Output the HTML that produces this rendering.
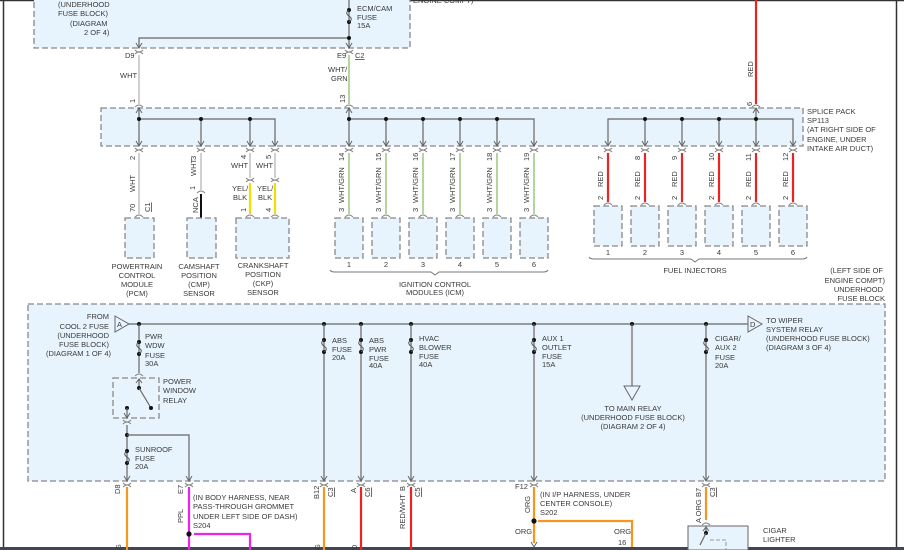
<!DOCTYPE html>
<html><head><meta charset="utf-8"><style>
html,body{margin:0;padding:0;background:#fff;}
svg{display:block;}
text{font-family:"Liberation Sans",sans-serif;font-size:7.5px;fill:#3a3a3a;}
.box{fill:#e8f4fd;stroke:#888;stroke-width:1.3;stroke-dasharray:6,3;}
.w{stroke:#666;stroke-width:1.2;fill:none;}
.gy{stroke:#d0d0d0;stroke-width:2;}
.gr{stroke:#b5d69a;stroke-width:2;}
.rd{stroke:#ee2222;stroke-width:2.2;}
.og{stroke:#f5961e;stroke-width:2.2;}
.mg{stroke:#ee22ee;stroke-width:2.2;}
.yl{stroke:#f0e000;stroke-width:2.2;}
.bk{stroke:#111;stroke-width:2;}
</style></head><body>
<svg width="904" height="550" viewBox="0 0 904 550" xmlns="http://www.w3.org/2000/svg">
<defs>
<g id="ar"><path d="M-3,-5 L0,0 L3,-5" fill="none" stroke="#666" stroke-width="1"/></g>
<g id="cp"><path d="M-4,4 Q0,0 4,4" fill="none" stroke="#888" stroke-width="1"/><path d="M-4,0 Q0,4 4,0" fill="none" stroke="#888" stroke-width="1"/></g>
<g id="cu"><path d="M-4,3 Q0,-1 4,3" fill="none" stroke="#888" stroke-width="1"/></g>
<g id="fz"><circle cx="0" cy="0" r="2" fill="#111"/><circle cx="0" cy="12" r="2" fill="#111"/><path d="M0,0 c-3,2 -3,4 0,6 c3,2 3,4 0,6" fill="none" stroke="#555" stroke-width="1"/></g>
<g id="sb"><rect x="-14" y="0" width="29" height="40" class="box"/></g>
<g id="ib"><rect x="-14" y="0" width="28" height="40" class="box"/></g>
</defs>

<!-- frame -->
<line x1="0" y1="0.5" x2="904" y2="0.5" stroke="#333" stroke-width="1.5"/>
<line x1="3.5" y1="0" x2="3.5" y2="550" stroke="#333" stroke-width="1.5"/>
<line x1="896.5" y1="0" x2="896.5" y2="550" stroke="#333" stroke-width="1.5"/>
<rect x="0" y="547" width="904" height="3" fill="#445"/>

<!-- top fuse block -->
<rect x="34" y="-6" width="376" height="54" class="box"/>
<text x="58" y="7">(UNDERHOOD</text>
<text x="58" y="16">FUSE BLOCK)</text>
<text x="70" y="26">(DIAGRAM</text>
<text x="84" y="35">2 OF 4)</text>
<line x1="349" y1="0" x2="349" y2="48" class="w"/>
<use href="#fz" x="349" y="10"/>
<text x="357" y="11">ECM/CAM</text>
<text x="357" y="20">FUSE</text>
<text x="357" y="28">15A</text>
<polyline points="139,48 139,38 349,38" class="w"/>
<circle cx="349" cy="38" r="2" fill="#111"/>
<use href="#ar" x="139" y="48"/><use href="#ar" x="349" y="48"/>
<text x="413" y="3">ENGINE COMPT)</text>
<use href="#cp" x="139" y="50"/><use href="#cp" x="349" y="50"/>
<text x="125" y="58">D9</text>
<text x="337" y="58">E9</text>
<text x="355" y="58" text-decoration="underline">C2</text>
<line x1="139" y1="55" x2="139" y2="104" class="gy"/>
<line x1="349" y1="55" x2="349" y2="104" class="gr"/>
<text x="120" y="78">WHT</text>
<text x="328" y="72">WHT/</text>
<text x="331" y="81">GRN</text>
<text transform="translate(135,103) rotate(-90)">1</text>
<text transform="translate(345,103) rotate(-90)">13</text>
<use href="#cu" x="139" y="104"/><use href="#cu" x="349" y="104"/>

<!-- red incoming -->
<line x1="756" y1="0" x2="756" y2="104" class="rd"/>
<text transform="translate(753,77) rotate(-90)">RED</text>
<text transform="translate(752,106) rotate(-90)">6</text>
<use href="#cu" x="756" y="104"/>

<!-- splice box -->
<rect x="101" y="108" width="702" height="38" class="box"/>
<text x="807" y="114">SPLICE PACK</text>
<text x="807" y="123">SP113</text>
<text x="807" y="132">(AT RIGHT SIDE OF</text>
<text x="807" y="142">ENGINE, UNDER</text>
<text x="807" y="151">INTAKE AIR DUCT)</text>
<polyline points="139,119 275,119 275,146" class="w"/>
<line x1="139" y1="108" x2="139" y2="146" class="w"/>
<line x1="201" y1="119" x2="201" y2="146" class="w"/>
<line x1="250" y1="119" x2="250" y2="146" class="w"/>
<path d="M136,113 L139,108 L142,113" fill="none" stroke="#666"/>
<circle cx="139" cy="119" r="2" fill="#111"/><circle cx="201" cy="119" r="2" fill="#111"/><circle cx="250" cy="119" r="2" fill="#111"/>
<polyline points="349,119 534,119 534,146" class="w"/>
<line x1="349" y1="108" x2="349" y2="146" class="w"/>
<path d="M346,113 L349,108 L352,113" fill="none" stroke="#666"/>
<line x1="386" y1="119" x2="386" y2="146" class="w"/><line x1="423" y1="119" x2="423" y2="146" class="w"/><line x1="460" y1="119" x2="460" y2="146" class="w"/><line x1="497" y1="119" x2="497" y2="146" class="w"/>
<circle cx="349" cy="119" r="2" fill="#111"/><circle cx="386" cy="119" r="2" fill="#111"/><circle cx="423" cy="119" r="2" fill="#111"/><circle cx="460" cy="119" r="2" fill="#111"/><circle cx="497" cy="119" r="2" fill="#111"/>
<polyline points="608,146 608,119 793,119 793,146" class="w"/>
<line x1="645" y1="119" x2="645" y2="146" class="w"/><line x1="682" y1="119" x2="682" y2="146" class="w"/><line x1="719" y1="119" x2="719" y2="146" class="w"/><line x1="756" y1="108" x2="756" y2="146" class="w"/>
<path d="M753,113 L756,108 L759,113" fill="none" stroke="#666"/>
<circle cx="645" cy="119" r="2" fill="#111"/><circle cx="682" cy="119" r="2" fill="#111"/><circle cx="719" cy="119" r="2" fill="#111"/><circle cx="756" cy="119" r="2" fill="#111"/>
<g>
<use href="#ar" x="139" y="146"/><use href="#ar" x="201" y="146"/><use href="#ar" x="250" y="146"/><use href="#ar" x="275" y="146"/>
<use href="#ar" x="349" y="146"/><use href="#ar" x="386" y="146"/><use href="#ar" x="423" y="146"/><use href="#ar" x="460" y="146"/><use href="#ar" x="497" y="146"/><use href="#ar" x="534" y="146"/>
<use href="#ar" x="608" y="146"/><use href="#ar" x="645" y="146"/><use href="#ar" x="682" y="146"/><use href="#ar" x="719" y="146"/><use href="#ar" x="756" y="146"/><use href="#ar" x="793" y="146"/>
<use href="#cp" x="139" y="148"/><use href="#cp" x="201" y="148"/><use href="#cp" x="250" y="148"/><use href="#cp" x="275" y="148"/>
<use href="#cp" x="349" y="148"/><use href="#cp" x="386" y="148"/><use href="#cp" x="423" y="148"/><use href="#cp" x="460" y="148"/><use href="#cp" x="497" y="148"/><use href="#cp" x="534" y="148"/>
<use href="#cp" x="608" y="148"/><use href="#cp" x="645" y="148"/><use href="#cp" x="682" y="148"/><use href="#cp" x="719" y="148"/><use href="#cp" x="756" y="148"/><use href="#cp" x="793" y="148"/>
</g>

<!-- left group wires -->
<line x1="139" y1="153" x2="139" y2="214" class="gy"/>
<text transform="translate(135,160) rotate(-90)">2</text>
<text transform="translate(135,192) rotate(-90)">WHT</text>
<text transform="translate(135,212) rotate(-90)">70</text>
<text transform="translate(150,212) rotate(-90)" text-decoration="underline">C1</text>
<use href="#cu" x="139" y="214"/><use href="#sb" x="139" y="218"/>
<line x1="201" y1="153" x2="201" y2="190" class="gy"/>
<line x1="201" y1="194" x2="201" y2="218" class="bk"/>
<text transform="translate(196,160) rotate(-90)">3</text>
<text transform="translate(196,176) rotate(-90)">WHT</text>
<text transform="translate(195,190) rotate(-90)">1</text>
<text transform="translate(198,213) rotate(-90)">NCA</text>
<use href="#cu" x="201" y="190"/>
<rect x="187" y="218" width="29" height="40" class="box"/>
<line x1="250" y1="153" x2="250" y2="178" class="gy"/><line x1="275" y1="153" x2="275" y2="178" class="gy"/>
<use href="#cp" x="250" y="178"/><use href="#cp" x="275" y="178"/>
<line x1="250" y1="183" x2="250" y2="214" class="yl"/><line x1="275" y1="183" x2="275" y2="214" class="yl"/>
<text transform="translate(246,159) rotate(-90)">4</text><text transform="translate(271,159) rotate(-90)">5</text>
<text x="231" y="168">WHT</text><text x="256" y="168">WHT</text>
<text x="232" y="191">YEL/</text><text x="257" y="191">YEL/</text>
<text x="233" y="200">BLK</text><text x="258" y="200">BLK</text>
<text transform="translate(246,212) rotate(-90)">1</text><text transform="translate(271,212) rotate(-90)">4</text>
<use href="#cu" x="250" y="214"/><use href="#cu" x="275" y="214"/>
<rect x="236" y="218" width="53" height="40" class="box"/>
<text x="137" y="269" text-anchor="middle">POWERTRAIN</text><text x="137" y="278" text-anchor="middle">CONTROL</text><text x="137" y="287" text-anchor="middle">MODULE</text><text x="137" y="296" text-anchor="middle">(PCM)</text>
<text x="199" y="269" text-anchor="middle">CAMSHAFT</text><text x="199" y="278" text-anchor="middle">POSITION</text><text x="199" y="287" text-anchor="middle">(CMP)</text><text x="199" y="296" text-anchor="middle">SENSOR</text>
<text x="263" y="268" text-anchor="middle">CRANKSHAFT</text><text x="263" y="277" text-anchor="middle">POSITION</text><text x="263" y="286" text-anchor="middle">(CKP)</text><text x="263" y="295" text-anchor="middle">SENSOR</text>

<!-- ICM -->
<g>
<line x1="349" y1="153" x2="349" y2="214" class="gr"/><line x1="386" y1="153" x2="386" y2="214" class="gr"/><line x1="423" y1="153" x2="423" y2="214" class="gr"/><line x1="460" y1="153" x2="460" y2="214" class="gr"/><line x1="497" y1="153" x2="497" y2="214" class="gr"/><line x1="534" y1="153" x2="534" y2="214" class="gr"/>
<text transform="translate(344,161) rotate(-90)">14</text><text transform="translate(381,161) rotate(-90)">15</text><text transform="translate(418,161) rotate(-90)">16</text><text transform="translate(455,161) rotate(-90)">17</text><text transform="translate(492,161) rotate(-90)">18</text><text transform="translate(529,161) rotate(-90)">19</text>
<text transform="translate(344,203) rotate(-90)">WHT/GRN</text><text transform="translate(381,203) rotate(-90)">WHT/GRN</text><text transform="translate(418,203) rotate(-90)">WHT/GRN</text><text transform="translate(455,203) rotate(-90)">WHT/GRN</text><text transform="translate(492,203) rotate(-90)">WHT/GRN</text><text transform="translate(529,203) rotate(-90)">WHT/GRN</text>
<text transform="translate(344,212) rotate(-90)">3</text><text transform="translate(381,212) rotate(-90)">3</text><text transform="translate(418,212) rotate(-90)">3</text><text transform="translate(455,212) rotate(-90)">3</text><text transform="translate(492,212) rotate(-90)">3</text><text transform="translate(529,212) rotate(-90)">3</text>
<use href="#cu" x="349" y="214"/><use href="#cu" x="386" y="214"/><use href="#cu" x="423" y="214"/><use href="#cu" x="460" y="214"/><use href="#cu" x="497" y="214"/><use href="#cu" x="534" y="214"/>
<use href="#ib" x="349" y="218"/><use href="#ib" x="386" y="218"/><use href="#ib" x="423" y="218"/><use href="#ib" x="460" y="218"/><use href="#ib" x="497" y="218"/><use href="#ib" x="534" y="218"/>
<text x="349" y="267" text-anchor="middle">1</text><text x="386" y="267" text-anchor="middle">2</text><text x="423" y="267" text-anchor="middle">3</text><text x="460" y="267" text-anchor="middle">4</text><text x="497" y="267" text-anchor="middle">5</text><text x="534" y="267" text-anchor="middle">6</text>
<path d="M330,270 Q331,272 335,272 L431,272 L435,275 L439,272 L543,272 Q547,272 548,270" fill="none" stroke="#777"/>
<text x="435" y="287" text-anchor="middle">IGNITION CONTROL</text><text x="435" y="295" text-anchor="middle">MODULES (ICM)</text>
</g>

<!-- injectors -->
<g>
<line x1="608" y1="153" x2="608" y2="202" class="rd"/><line x1="645" y1="153" x2="645" y2="202" class="rd"/><line x1="682" y1="153" x2="682" y2="202" class="rd"/><line x1="719" y1="153" x2="719" y2="202" class="rd"/><line x1="756" y1="153" x2="756" y2="202" class="rd"/><line x1="793" y1="153" x2="793" y2="202" class="rd"/>
<text transform="translate(603,160) rotate(-90)">7</text><text transform="translate(640,160) rotate(-90)">8</text><text transform="translate(677,160) rotate(-90)">9</text><text transform="translate(714,161) rotate(-90)">10</text><text transform="translate(751,161) rotate(-90)">11</text><text transform="translate(788,161) rotate(-90)">12</text>
<text transform="translate(603,187) rotate(-90)">RED</text><text transform="translate(640,187) rotate(-90)">RED</text><text transform="translate(677,187) rotate(-90)">RED</text><text transform="translate(714,187) rotate(-90)">RED</text><text transform="translate(751,187) rotate(-90)">RED</text><text transform="translate(788,187) rotate(-90)">RED</text>
<text transform="translate(603,200) rotate(-90)">2</text><text transform="translate(640,200) rotate(-90)">2</text><text transform="translate(677,200) rotate(-90)">2</text><text transform="translate(714,200) rotate(-90)">2</text><text transform="translate(751,200) rotate(-90)">2</text><text transform="translate(788,200) rotate(-90)">2</text>
<use href="#cu" x="608" y="202"/><use href="#cu" x="645" y="202"/><use href="#cu" x="682" y="202"/><use href="#cu" x="719" y="202"/><use href="#cu" x="756" y="202"/><use href="#cu" x="793" y="202"/>
<use href="#ib" x="608" y="206"/><use href="#ib" x="645" y="206"/><use href="#ib" x="682" y="206"/><use href="#ib" x="719" y="206"/><use href="#ib" x="756" y="206"/><use href="#ib" x="793" y="206"/>
<text x="608" y="255" text-anchor="middle">1</text><text x="645" y="255" text-anchor="middle">2</text><text x="682" y="255" text-anchor="middle">3</text><text x="719" y="255" text-anchor="middle">4</text><text x="756" y="255" text-anchor="middle">5</text><text x="793" y="255" text-anchor="middle">6</text>
<path d="M589,257 Q590,259 594,259 L691,259 L695,262 L699,259 L802,259 Q806,259 807,257" fill="none" stroke="#777"/>
<text x="695" y="273" text-anchor="middle">FUEL INJECTORS</text>
</g>
<text x="883" y="273" text-anchor="end">(LEFT SIDE OF</text>
<text x="885" y="283" text-anchor="end">ENGINE COMPT)</text>
<text x="883" y="292" text-anchor="end">UNDERHOOD</text>
<text x="885" y="301" text-anchor="end">FUSE BLOCK</text>

<!-- lower fuse block -->
<rect x="28" y="304" width="857" height="177" class="box"/>
<line x1="129" y1="324" x2="748" y2="324" class="w"/>
<path d="M115,316 L129,324 L115,332 Z" fill="none" stroke="#666"/>
<text x="117" y="327" font-size="6.5">A</text>
<path d="M748,316 L762,324 L748,332 Z" fill="none" stroke="#666"/>
<text x="750" y="327" font-size="6.5">D</text>
<text x="109" y="319" text-anchor="end">FROM</text>
<text x="109" y="329" text-anchor="end">COOL 2 FUSE</text>
<text x="109" y="338" text-anchor="end">(UNDERHOOD</text>
<text x="109" y="347" text-anchor="end">FUSE BLOCK)</text>
<text x="111" y="356" text-anchor="end">(DIAGRAM 1 OF 4)</text>
<text x="766" y="323">TO WIPER</text>
<text x="766" y="332">SYSTEM RELAY</text>
<text x="766" y="341">(UNDERHOOD FUSE BLOCK)</text>
<text x="766" y="350">(DIAGRAM 3 OF 4)</text>
<circle cx="139" cy="324" r="2" fill="#111"/>
<line x1="139" y1="324" x2="139" y2="373" class="w"/>
<use href="#fz" x="139" y="342"/>
<text x="145" y="339">PWR</text><text x="145" y="348">WDW</text><text x="145" y="358">FUSE</text><text x="145" y="366">30A</text>
<use href="#cu" x="139" y="373"/>
<rect x="113" y="378" width="46" height="40" class="box"/>
<path d="M136,383 L139,379 L142,383" fill="none" stroke="#666"/>
<line x1="139" y1="379" x2="139" y2="388" class="w"/>
<circle cx="139" cy="388" r="2" fill="#111"/><line x1="139" y1="388" x2="151" y2="408" class="w"/><circle cx="151" cy="408" r="2" fill="#111"/>
<circle cx="127" cy="408" r="2" fill="#111"/><line x1="127" y1="408" x2="127" y2="418" class="w"/>
<use href="#ar" x="127" y="418"/>
<text x="163" y="384">POWER</text><text x="163" y="393">WINDOW</text><text x="163" y="403">RELAY</text>
<use href="#cp" x="127" y="420"/>
<line x1="127" y1="425" x2="127" y2="481" class="w"/>
<circle cx="127" cy="435" r="2" fill="#111"/>
<polyline points="127,435 189,435 189,481" class="w"/>
<use href="#fz" x="127" y="451"/>
<text x="135" y="452">SUNROOF</text><text x="135" y="461">FUSE</text><text x="135" y="469">20A</text>
<!-- drops -->
<circle cx="324" cy="324" r="2" fill="#111"/><line x1="324" y1="324" x2="324" y2="481" class="w"/><use href="#fz" x="324" y="340"/>
<text x="332" y="343">ABS</text><text x="332" y="352">FUSE</text><text x="332" y="360">20A</text>
<circle cx="361" cy="324" r="2" fill="#111"/><line x1="361" y1="324" x2="361" y2="481" class="w"/><use href="#fz" x="361" y="340"/>
<text x="369" y="343">ABS</text><text x="369" y="352">PWR</text><text x="369" y="361">FUSE</text><text x="369" y="368">40A</text>
<circle cx="411" cy="324" r="2" fill="#111"/><line x1="411" y1="324" x2="411" y2="481" class="w"/><use href="#fz" x="411" y="340"/>
<text x="419" y="341">HVAC</text><text x="419" y="350">BLOWER</text><text x="419" y="359">FUSE</text><text x="419" y="367">40A</text>
<circle cx="534" cy="324" r="2" fill="#111"/><line x1="534" y1="324" x2="534" y2="481" class="w"/><use href="#fz" x="534" y="340"/>
<text x="542" y="341">AUX 1</text><text x="542" y="350">OUTLET</text><text x="542" y="359">FUSE</text><text x="542" y="367">15A</text>
<circle cx="632" cy="324" r="2" fill="#111"/><line x1="632" y1="324" x2="632" y2="386" class="w"/>
<path d="M624,386 L640,386 L632,400 Z" fill="none" stroke="#666"/>
<text x="633" y="411" text-anchor="middle">TO MAIN RELAY</text>
<text x="633" y="420" text-anchor="middle">(UNDERHOOD FUSE BLOCK)</text>
<text x="633" y="429" text-anchor="middle">(DIAGRAM 2 OF 4)</text>
<circle cx="706" cy="324" r="2" fill="#111"/><line x1="706" y1="324" x2="706" y2="481" class="w"/><use href="#fz" x="706" y="340"/>
<text x="715" y="341">CIGAR/</text><text x="715" y="350">AUX 2</text><text x="715" y="360">FUSE</text><text x="715" y="368">20A</text>
<use href="#ar" x="127" y="481"/><use href="#ar" x="189" y="481"/><use href="#ar" x="324" y="481"/><use href="#ar" x="361" y="481"/><use href="#ar" x="411" y="481"/><use href="#ar" x="534" y="481"/><use href="#ar" x="706" y="481"/>
<use href="#cp" x="127" y="483"/><use href="#cp" x="189" y="483"/><use href="#cp" x="324" y="483"/><use href="#cp" x="361" y="483"/><use href="#cp" x="411" y="483"/><use href="#cp" x="534" y="483"/><use href="#cp" x="706" y="483"/>

<!-- lower wires -->
<line x1="127" y1="487" x2="127" y2="550" class="og"/>
<text transform="translate(120,494) rotate(-90)">D8</text>
<text transform="translate(121,550) rotate(-90)">G</text>
<line x1="189" y1="487" x2="189" y2="550" class="mg"/>
<text transform="translate(183,494) rotate(-90)">E7</text>
<text transform="translate(183,523) rotate(-90)">PPL</text>
<text x="193" y="500">(IN BODY HARNESS, NEAR</text>
<text x="193" y="509">PASS-THROUGH GROMMET</text>
<text x="193" y="519">UNDER LEFT SIDE OF DASH)</text>
<text x="193" y="528">S204</text>
<circle cx="189" cy="534" r="2.6" fill="#111"/>
<polyline points="194,534 250,534 250,550" fill="none" class="mg"/>
<line x1="324" y1="487" x2="324" y2="550" class="og"/>
<text transform="translate(319,499) rotate(-90)">B12</text>
<text transform="translate(333,497) rotate(-90)" text-decoration="underline">C3</text>
<text transform="translate(320,550) rotate(-90)">G</text>
<line x1="361" y1="487" x2="361" y2="550" class="rd"/>
<text transform="translate(356,493) rotate(-90)">A</text>
<text transform="translate(370,497) rotate(-90)" text-decoration="underline">C6</text>
<text transform="translate(357,550) rotate(-90)">D</text>
<line x1="411" y1="487" x2="411" y2="550" class="rd"/>
<text transform="translate(405,491) rotate(-90)">B</text>
<text transform="translate(420,497) rotate(-90)" text-decoration="underline">C5</text>
<text transform="translate(405,529) rotate(-90)">RED/WHT</text>
<line x1="534" y1="487" x2="534" y2="543" class="og"/>
<text x="515" y="489">F12</text>
<text transform="translate(530,513) rotate(-90)">ORG</text>
<text x="540" y="497">(IN I/P HARNESS, UNDER</text>
<text x="540" y="506">CENTER CONSOLE)</text>
<text x="540" y="515">S202</text>
<circle cx="534" cy="521" r="2.6" fill="#111"/>
<polyline points="538,521 632,521 632,547" fill="none" class="og"/>
<text x="515" y="534">ORG</text>
<text x="614" y="534">ORG</text>
<text x="618" y="545">16</text>
<use href="#ar" x="534" y="547"/>
<line x1="706" y1="487" x2="706" y2="520" class="og"/>
<text transform="translate(701,497) rotate(-90)">B7</text>
<text transform="translate(715,497) rotate(-90)" text-decoration="underline">C3</text>
<text transform="translate(701,523) rotate(-90)">A ORG</text>
<use href="#cu" x="706" y="522"/>
<rect x="688" y="526" width="60" height="24" fill="#e8f4fd" stroke="#666" stroke-width="1"/>
<path d="M703,531 L706,527 L709,531" fill="none" stroke="#666"/>
<line x1="706" y1="527" x2="706" y2="533" class="w"/>
<circle cx="706" cy="533" r="2" fill="#111"/><line x1="706" y1="533" x2="700" y2="545" class="w"/>
<path d="M710,540 L726,540 L726,550" fill="none" stroke="#999" stroke-dasharray="4,2"/>
<text x="763" y="533">CIGAR</text>
<text x="763" y="542">LIGHTER</text>
</svg>
</body></html>
